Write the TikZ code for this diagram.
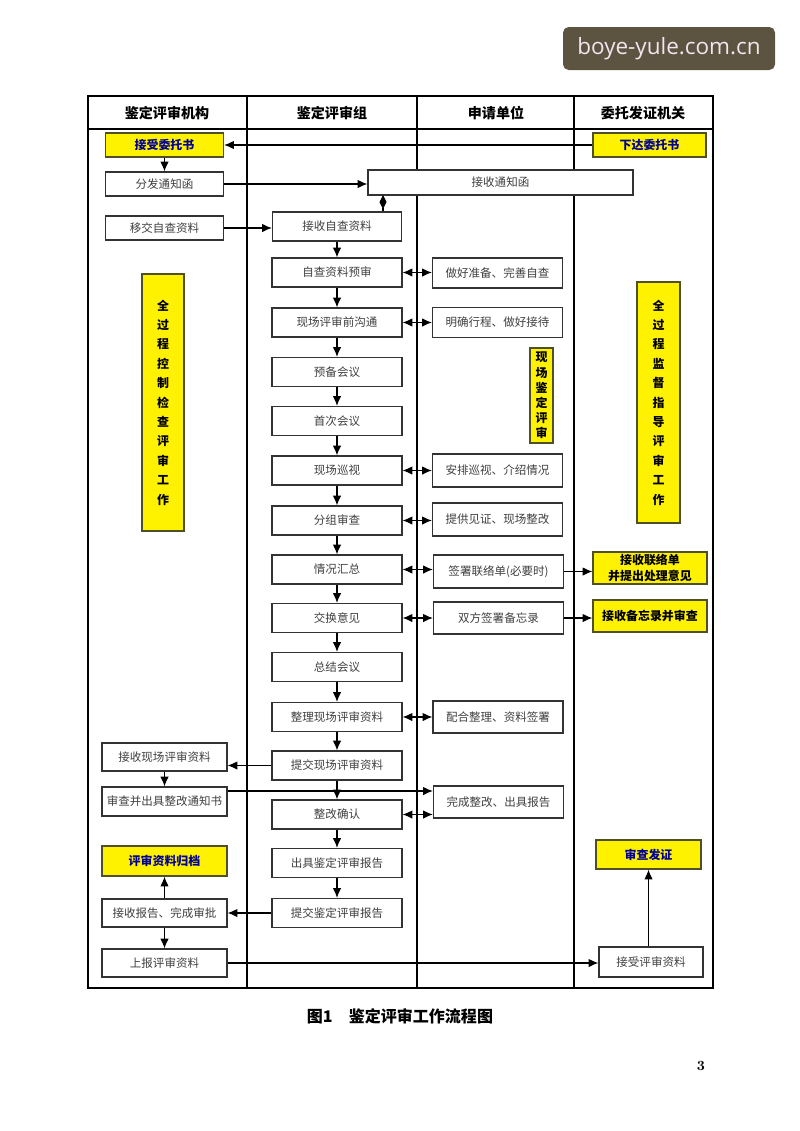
\documentclass[tikz,border=0pt]{standalone}
\usepackage{fontspec}
\usepackage{tikz}
\usetikzlibrary{arrows.meta}
\newfontfamily\cjk{Noto Sans CJK SC}
\newfontfamily\wmfont{Open Sans}

\definecolor{gelbrand}{RGB}{80,80,40}
\definecolor{wmgrund}{RGB}{92,84,64}
\definecolor{wmtext}{RGB}{245,228,238}

\tikzset{
    bsz/.style 2 args={minimum width=#1*0.025cm, minimum height=#2*0.025cm},
    kasten/.style={draw=black!80, fill=white, text=black!75, line width=.8pt, inner sep=0pt,
        font=\cjk\fontsize{8.2}{10}\selectfont},
    gelb/.style={draw=gelbrand, fill=yellow, text=blue!60!black, line width=.8pt, inner sep=0pt,
        font=\cjk\bfseries\fontsize{8.5}{11}\selectfont},
    pfeil/.style={-{Latex[length=7pt,width=6pt]}, line width=.8pt},
    dpfeil/.style={{Latex[length=7pt,width=6pt]}-{Latex[length=7pt,width=6pt]}, line width=.8pt},
}

\begin{document}
\begin{tikzpicture}[x=0.025cm, y=-0.025cm, line width=1pt]
    \useasboundingbox (0,0) rectangle (800,1131);

    % Wasserzeichen.
    \node[fill=wmgrund, rounded corners=4pt, text=wmtext, bsz={212}{43},
        font=\wmfont\fontsize{16}{18}\selectfont] (wm) at (669,48.5) {boye-yule.com.cn};

    % Linien.
    \draw[line width=2pt] (88,96) rectangle (713,988);
    \foreach \i in {247,417,574}
    {
        \draw[color=black] (\i,96) -- (\i,988);
    }
    \draw[color=black] (88,129) -- (713,129);

    % Kopfzeile.
    \foreach \x/\t in {167/鉴定评审机构, 332/鉴定评审组, 496/申请单位, 643/委托发证机关}
    {
        \node[font=\cjk\bfseries\fontsize{10}{12}\selectfont] at (\x,113) {\t};
    }

    % Spalte 1.
    \node[gelb, bsz={118}{24}] (a1) at (164.5,145) {接受委托书};
    \node[kasten, bsz={118}{24}] (a2) at (164.5,184) {分发通知函};
    \node[kasten, bsz={118}{24}] (a3) at (164.5,228) {移交自查资料};
    \node[gelb, text=black, bsz={42}{257}, align=center,
        font=\cjk\bfseries\fontsize{8.5}{13.8}\selectfont] (la) at (163,402.5)
        {全\\过\\程\\控\\制\\检\\查\\评\\审\\工\\作};
    \node[kasten, bsz={125}{28}] (a4) at (164.5,757) {接收现场评审资料};
    \node[kasten, bsz={125}{29}] (a5) at (164.5,801.5) {审查并出具整改通知书};
    \node[gelb, bsz={125}{30}] (a6) at (164.5,861) {评审资料归档};
    \node[kasten, bsz={125}{28}] (a7) at (164.5,913) {接收报告、完成审批};
    \node[kasten, bsz={125}{28}] (a8) at (164.5,963) {上报评审资料};

    % Spalte 2.
    \node[kasten, bsz={129}{29}] (b1) at (337,226.5) {接收自查资料};
    \foreach \i/\y/\t in {2/272.5/自查资料预审, 3/322.5/现场评审前沟通, 4/372/预备会议,
        5/421/首次会议, 6/470.5/现场巡视, 7/520.5/分组审查, 8/569.5/情况汇总,
        9/618/交换意见, 10/667/总结会议, 11/717/整理现场评审资料,
        12/765.5/提交现场评审资料, 13/814.5/整改确认, 14/863/出具鉴定评审报告,
        15/913/提交鉴定评审报告}
    {
        \node[kasten, bsz={130}{29}] (b\i) at (337,\y) {\t};
    }

    % Spalte 3.
    \node[kasten, bsz={265}{25}] (c0) at (500.5,182.5) {接收通知函};
    \node[kasten, bsz={130}{30}] (c1) at (497.5,273) {做好准备、完善自查};
    \node[kasten, bsz={130}{30}] (c2) at (497.5,322.5) {明确行程、做好接待};
    \node[gelb, text=black, bsz={23}{95}, align=center,
        font=\cjk\bfseries\fontsize{8.5}{10.8}\selectfont] (ma) at (541.5,395.5)
        {现\\场\\鉴\\定\\评\\审};
    \node[kasten, bsz={130}{33}] (c3) at (497.5,470.5) {安排巡视、介绍情况};
    \node[kasten, bsz={130}{33}] (c4) at (497.5,519.5) {提供见证、现场整改};
    \node[kasten, bsz={130}{33}] (c5) at (498.5,571.5) {签署联络单(必要时)};
    \node[kasten, bsz={130}{32}] (c6) at (498.5,618) {双方签署备忘录};
    \node[kasten, bsz={130}{32}] (c7) at (498,717) {配合整理、资料签署};
    \node[kasten, bsz={130}{32}] (c8) at (498.5,802) {完成整改、出具报告};

    % Spalte 4.
    \node[gelb, bsz={113}{24}] (d1) at (649.5,145) {下达委托书};
    \node[gelb, text=black, bsz={43}{241}, align=center,
        font=\cjk\bfseries\fontsize{8.5}{13.8}\selectfont] (ra) at (658.5,402.5)
        {全\\过\\程\\监\\督\\指\\导\\评\\审\\工\\作};
    \node[gelb, text=black, bsz={114}{32}, align=center] (d2) at (650,568) {接收联络单\\并提出处理意见};
    \node[gelb, text=black, bsz={114}{32}] (d3) at (650,616) {接收备忘录并审查};
    \node[gelb, bsz={105}{29}] (d4) at (648.5,854.5) {审查发证};
    \node[kasten, bsz={104}{30}] (d5) at (651,962) {接受评审资料};

    % Pfeile.
    \draw[pfeil] (d1) -- (a1);
    \draw[pfeil] (a1) -- (a2);
    \draw[pfeil] (a2.east) -- (a2.east -| c0.west);
    \coordinate (r) at (383,195);
    \draw[{Diamond[length=10pt,width=5pt]}-, line width=.8pt] (r) -- (r |- b1.north);
    \draw[pfeil] (a3.east) -- (a3.east -| b1.west);
    \foreach \i [count=\j from 2] in {1,...,14}
    {
        \draw[pfeil] (b\i) -- (b\j);
    }
    \foreach \i/\k in {2/1, 3/2, 6/3, 7/4, 8/5, 9/6, 11/7, 13/8}
    {
        \draw[dpfeil] (b\i.east) -- (b\i.east -| c\k.west);
    }
    \draw[pfeil] (c5.east) -- (c5.east -| d2.west);
    \draw[pfeil] (c6.east) -- (c6.east -| d3.west);
    \draw[pfeil] (b12.west) -- (b12.west -| a4.east);
    \draw[pfeil] (a4) -- (a5);
    \draw[pfeil] ([yshift=10.5*0.025cm]a5.east) -- ([yshift=10.5*0.025cm]a5.east -| c8.west);
    \draw[pfeil] (b15.west) -- (b15.west -| a7.east);
    \draw[pfeil] (a7) -- (a6);
    \draw[pfeil] (a7) -- (a8);
    \draw[pfeil] (a8.east) -- (a8.east -| d5.west);
    \draw[pfeil] (d5.north -| d4.south) -- (d4.south);

    % Beschriftung.
    \node[font=\cjk\bfseries\fontsize{11.4}{13}\selectfont] (cap) at (400,1016) {图1\hspace{1em}鉴定评审工作流程图};
    \node[font=\bfseries\fontsize{10}{12}\selectfont] (seite) at (701,1066) {3};
\end{tikzpicture}
\end{document}
